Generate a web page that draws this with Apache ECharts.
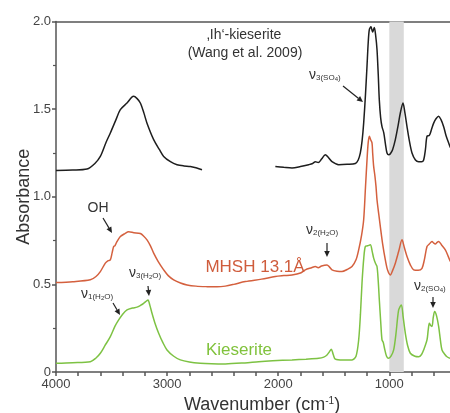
<!DOCTYPE html>
<html><head><meta charset="utf-8">
<script src="https://cdn.jsdelivr.net/npm/echarts@6/dist/echarts.min.js"></script>
<style>html,body{margin:0;padding:0;background:#fff}#c{width:450px;height:413px}</style>
</head><body><div id="c"></div>
<script>
// Data: [wavenumber cm-1, absorbance]
var ihKieseriteA = [[4000,1.15],[3850,1.152],[3721,1.158],[3650,1.19],[3601,1.23],[3550,1.31],[3511,1.364],[3460,1.44],[3421,1.497],[3361,1.535],[3302,1.573],[3270,1.56],[3241,1.535],[3210,1.48],[3181,1.42],[3121,1.326],[3070,1.27],[3031,1.23],[2970,1.2],[2911,1.183],[2850,1.176],[2791,1.173],[2740,1.165],[2686,1.154]];
var ihKieseriteB = [[2026,1.173],[1950,1.168],[1876,1.164],[1800,1.172],[1726,1.183],[1690,1.19],[1666,1.2],[1640,1.195],[1610,1.215],[1576,1.24],[1550,1.225],[1516,1.2],[1456,1.183],[1380,1.185],[1306,1.19],[1280,1.21],[1261,1.25],[1245,1.32],[1231,1.42],[1215,1.58],[1201,1.745],[1190,1.88],[1180,1.954],[1165,1.97],[1158,1.955],[1150,1.94],[1142,1.955],[1135,1.966],[1123,1.92],[1111,1.84],[1100,1.7],[1090,1.55],[1078,1.45],[1066,1.40],[1050,1.365],[1035,1.3],[1021,1.25],[1005,1.24],[991,1.245],[970,1.27],[946,1.326],[920,1.41],[901,1.478],[877,1.535],[860,1.48],[841,1.40],[820,1.32],[796,1.25],[765,1.21],[736,1.20],[710,1.2],[691,1.21],[675,1.27],[661,1.345],[640,1.35],[620,1.385],[601,1.42],[580,1.445],[556,1.46],[535,1.44],[511,1.40],[490,1.35],[466,1.307],[450,1.28]];
var mhsh = [[4000,0.51],[3850,0.515],[3691,0.526],[3640,0.545],[3601,0.573],[3556,0.621],[3530,0.635],[3511,0.64],[3495,0.68],[3481,0.716],[3470,0.72],[3455,0.74],[3421,0.773],[3380,0.79],[3346,0.80],[3300,0.795],[3241,0.79],[3210,0.775],[3181,0.754],[3150,0.72],[3121,0.678],[3080,0.63],[3031,0.583],[2990,0.55],[2941,0.526],[2880,0.508],[2821,0.497],[2740,0.49],[2641,0.487],[2550,0.486],[2476,0.49],[2400,0.5],[2296,0.516],[2150,0.53],[2026,0.545],[1950,0.55],[1876,0.554],[1800,0.565],[1756,0.583],[1700,0.595],[1666,0.602],[1640,0.595],[1610,0.605],[1561,0.611],[1540,0.6],[1516,0.583],[1470,0.575],[1426,0.573],[1380,0.585],[1336,0.602],[1300,0.64],[1276,0.697],[1250,0.78],[1231,0.869],[1215,1.05],[1200,1.22],[1190,1.31],[1180,1.345],[1168,1.325],[1156,1.308],[1150,1.25],[1141,1.173],[1130,1.12],[1120,1.059],[1111,0.983],[1095,0.9],[1081,0.83],[1060,0.73],[1036,0.64],[1015,0.58],[991,0.554],[970,0.58],[946,0.621],[915,0.69],[886,0.754],[865,0.71],[841,0.659],[810,0.61],[781,0.583],[740,0.58],[706,0.592],[685,0.64],[661,0.716],[640,0.73],[616,0.745],[600,0.735],[586,0.73],[570,0.74],[556,0.745],[530,0.725],[496,0.697],[470,0.66],[451,0.63]];
var kieserite = [[4000,0.05],[3850,0.053],[3691,0.059],[3640,0.08],[3601,0.107],[3560,0.15],[3511,0.202],[3470,0.26],[3436,0.297],[3400,0.33],[3361,0.354],[3310,0.365],[3271,0.37],[3240,0.38],[3211,0.392],[3185,0.405],[3172,0.411],[3155,0.38],[3136,0.335],[3110,0.28],[3076,0.221],[3040,0.17],[3001,0.126],[2940,0.09],[2881,0.069],[2800,0.057],[2701,0.05],[2600,0.047],[2476,0.046],[2300,0.052],[2176,0.059],[2050,0.064],[1876,0.069],[1750,0.073],[1636,0.078],[1590,0.085],[1561,0.097],[1540,0.115],[1522,0.13],[1505,0.1],[1486,0.073],[1420,0.068],[1336,0.069],[1300,0.09],[1276,0.183],[1260,0.33],[1246,0.507],[1230,0.65],[1216,0.716],[1195,0.72],[1171,0.726],[1155,0.69],[1141,0.65],[1125,0.62],[1111,0.602],[1100,0.52],[1090,0.411],[1078,0.29],[1066,0.183],[1055,0.17],[1045,0.14],[1025,0.09],[1006,0.078],[985,0.09],[961,0.126],[940,0.22],[916,0.354],[892,0.383],[875,0.31],[856,0.221],[835,0.15],[811,0.107],[770,0.09],[736,0.087],[710,0.1],[691,0.126],[661,0.183],[650,0.24],[640,0.278],[628,0.265],[616,0.26],[605,0.31],[592,0.345],[575,0.32],[556,0.259],[540,0.18],[526,0.126],[500,0.1],[481,0.087],[451,0.078]];
var bandRange = [1000, 870];
var xTickLabels = [4000, 3000, 2000, 1000];
var yTickLabels = ['0', '0.5', '1.0', '1.5', '2.0'];

var FONT = 'Liberation Sans, Arial, sans-serif';
var BLACK = '#1e1e1e', RED = '#d4603e', GREEN = '#7dc243';
var chart = echarts.init(document.getElementById('c'), null, {renderer:'canvas'});

function arrow(x1,y1,x2,y2){
  var dx=x2-x1, dy=y2-y1, L=Math.sqrt(dx*dx+dy*dy), ux=dx/L, uy=dy/L;
  var hl=6, hw=2.8, bx=x2-ux*hl, by=y2-uy*hl;
  return [
    {type:'line', shape:{x1:x1,y1:y1,x2:bx,y2:by}, style:{stroke:'#222', lineWidth:1.2}, z:100},
    {type:'polygon', shape:{points:[[x2,y2],[bx-uy*hw,by+ux*hw],[bx+uy*hw,by-ux*hw]]}, style:{fill:'#222'}, z:100}
  ];
}
var rich = {
  n:{fontSize:14, fontFamily:FONT, color:'#333'},
  s:{fontSize:8, fontFamily:FONT, color:'#333', padding:[6,0,0,0]},
  ss:{fontSize:6, fontFamily:FONT, color:'#333', padding:[9,0,0,0]}
};
function nuLabel(x,y,sub1,subsub,sub2){
  var t = '{n|ν}{s|'+sub1+'}' + (subsub ? '{ss|'+subsub+'}' : '') + '{s|'+sub2+'}';
  return {type:'text', left:x, top:y, z:100, style:{text:t, rich:rich, fill:'#333'}};
}

var graphics = [
  {type:'text', x:244, y:35, z:100, style:{text:'‚Ih‘-kieserite', font:'14px '+FONT, fill:'#333', textAlign:'center', textVerticalAlign:'middle'}},
  {type:'text', x:245, y:53, z:100, style:{text:'(Wang et al. 2009)', font:'14px '+FONT, fill:'#333', textAlign:'center', textVerticalAlign:'middle'}},
  {type:'text', x:98, y:208, z:100, style:{text:'OH', font:'14px '+FONT, fill:'#333', textAlign:'center', textVerticalAlign:'middle'}},
  {type:'text', x:255, y:267, z:100, style:{text:'MHSH 13.1Å', font:'17px '+FONT, fill:'#cf5c3c', textAlign:'center', textVerticalAlign:'middle'}},
  {type:'text', x:239, y:350, z:100, style:{text:'Kieserite', font:'17px '+FONT, fill:'#80c23c', textAlign:'center', textVerticalAlign:'middle'}},
  nuLabel(309,68,'3(SO','4',')'),
  nuLabel(129,266,'3(H','2','O)'),
  nuLabel(81,287,'1(H','2','O)'),
  nuLabel(306,223,'2(H','2','O)'),
  nuLabel(414,279,'2(SO','4',')')
].concat(arrow(343,86,363,102), arrow(103,218,112,233), arrow(148,286,149,296), arrow(113,303,120,315), arrow(327,243,327,257), arrow(433,297,433,308));

var lineStyle = function(c){return {color:c, width:1.5};};
var option = {
  animation:false,
  grid:{left:56, top:21.5, width:400, height:350.5, containLabel:false, outerBoundsMode:'none'},
  xAxis:[{
    type:'value', inverse:true, min:400, max:4000, interval:200,
    axisLine:{show:true, lineStyle:{color:'#555', width:1.5}},
    axisTick:{show:true, length:4, inside:false, lineStyle:{color:'#555', width:1.5}},
    splitLine:{show:false},
    axisLabel:{margin:6, fontSize:13, fontFamily:FONT, color:'#444',
      formatter:function(v){ return xTickLabels.indexOf(v) >= 0 ? String(v) : ''; }},
    name:'Wavenumber (cm{sup|-1})', nameLocation:'middle', nameGap:23,
    nameTextStyle:{fontSize:18, fontFamily:FONT, color:'#333', padding:[0,0,0,12],
      rich:{sup:{fontSize:10, fontFamily:FONT, color:'#333', padding:[0,0,9,0]}}}
  },{
    type:'value', position:'top', inverse:true, min:400, max:4000,
    axisLine:{show:true, onZero:false, lineStyle:{color:'#555', width:1.5}},
    axisTick:{show:false}, axisLabel:{show:false}, splitLine:{show:false}
  }],
  yAxis:{
    type:'value', min:0, max:2, interval:0.5,
    axisLine:{show:true, lineStyle:{color:'#555', width:1.5}},
    axisTick:{show:true, length:4, lineStyle:{color:'#555', width:1.5}},
    minorTick:{show:true, splitNumber:2, length:3, lineStyle:{color:'#555', width:1.2}},
    splitLine:{show:false},
    axisLabel:{margin:5, fontSize:13, fontFamily:FONT, color:'#444',
      formatter:function(v){ return yTickLabels[Math.round(v*2)]; }},
    name:'Absorbance', nameLocation:'middle', nameGap:23, nameMoveOverlap:false,
    nameTextStyle:{fontSize:18, fontFamily:FONT, color:'#333'}
  },
  series:[
    {type:'line', name:'band', data:[], z:1, silent:true,
      markArea:{silent:true, itemStyle:{color:'#d9d9d9'}, data:[[{xAxis:bandRange[0]},{xAxis:bandRange[1]}]]}},
    {type:'line', name:'ih1', data:ihKieseriteA, showSymbol:false, smooth:0.3, lineStyle:lineStyle(BLACK), z:5},
    {type:'line', name:'ih2', data:ihKieseriteB, showSymbol:false, smooth:0.3, lineStyle:lineStyle(BLACK), z:5},
    {type:'line', name:'MHSH', data:mhsh, showSymbol:false, smooth:0.3, lineStyle:lineStyle(RED), z:5},
    {type:'line', name:'Kieserite', data:kieserite, showSymbol:false, smooth:0.3, lineStyle:lineStyle(GREEN), z:5}
  ],
  graphic:graphics
};
chart.setOption(option);
</script></body></html>
